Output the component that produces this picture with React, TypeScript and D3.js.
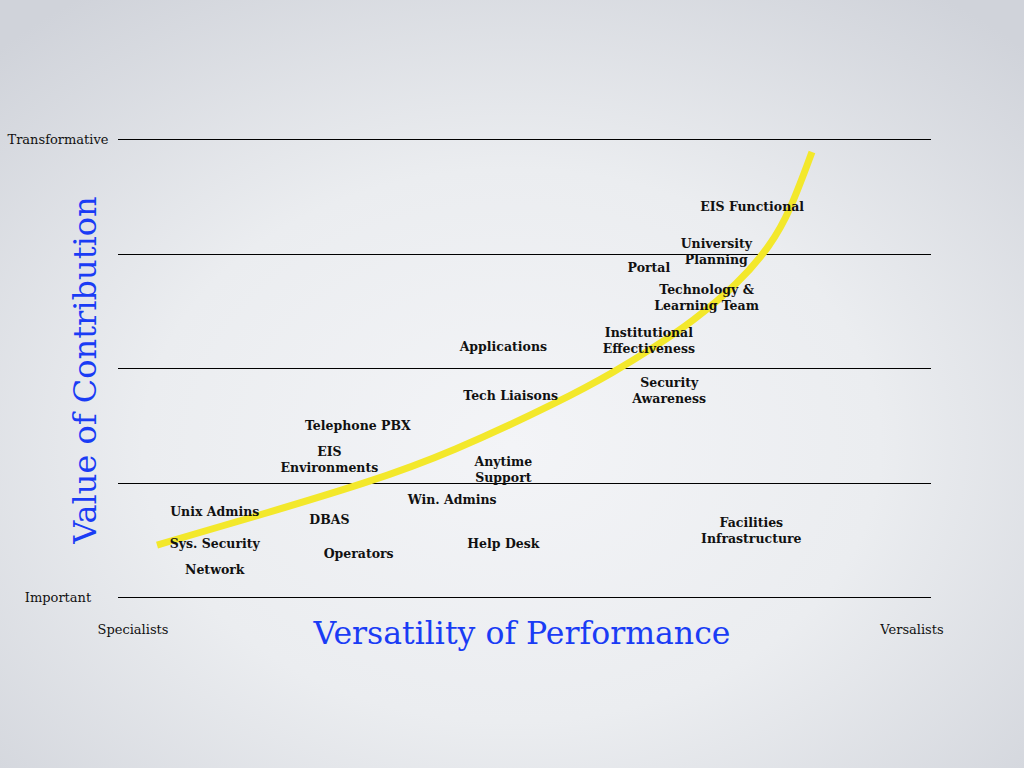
import React from "react";
import * as d3 from "d3";

const W = 1024;
const H = 768;

// y levels: 0 = Important ... 4 = Transformative
const levels = [0, 1, 2, 3, 4];
const yTickLabels = [
  { level: 0, text: "Important" },
  { level: 4, text: "Transformative" },
];
const xEndLabels = [
  { x: 0, text: "Specialists" },
  { x: 100, text: "Versalists" },
];

// Groups (x: versatility 0-100, y: value 0-4, centre of label block)
const groupNames = [
  ["EIS Functional"],
  ["University", "Planning"],
  ["Portal"],
  ["Technology &", "Learning Team"],
  ["Institutional", "Effectiveness"],
  ["Applications"],
  ["Security", "Awareness"],
  ["Tech Liaisons"],
  ["Telephone PBX"],
  ["EIS", "Environments"],
  ["Anytime", "Support"],
  ["Win. Admins"],
  ["Unix Admins"],
  ["DBAS"],
  ["Facilities", "Infrastructure"],
  ["Sys. Security"],
  ["Help Desk"],
  ["Operators"],
  ["Network"],
];
const groupX = [78.0, 73.6, 65.3, 72.4, 65.3, 47.4, 67.8, 48.3, 29.5, 26.0, 47.4, 41.1, 11.9, 26.0, 77.9, 11.9, 47.4, 29.6, 11.9];
const groupY = [3.41, 3.02, 2.88, 2.62, 2.24, 2.19, 1.8, 1.76, 1.5, 1.2, 1.11, 0.85, 0.75, 0.68, 0.58, 0.47, 0.47, 0.38, 0.24];

// Yellow trend curve
const curveX = [4.8, 16.24, 31.0, 40.84, 54.74, 61.01, 65.81, 70.6, 76.26, 80.32, 82.66, 85.36];
const curveY = [0.454, 0.69, 1.004, 1.258, 1.721, 1.965, 2.175, 2.402, 2.734, 3.074, 3.371, 3.886];

const FONT = "'DejaVu Serif', 'Liberation Serif', serif";

export default function App() {
  const x = d3.scaleLinear().domain([0, 100]).range([118, 931]);
  const y = d3.scaleLinear().domain([0, 4]).range([597, 139]);

  const line = d3
    .line<number>()
    .x((_, i) => x(curveX[i]))
    .y((_, i) => y(curveY[i]))
    .curve(d3.curveBasis);

  const lineH = 16;

  return (
    <svg
      width={W}
      height={H}
      style={{ position: "absolute", left: 0, top: 0 }}
      fontFamily={FONT}
    >
      <defs>
        <radialGradient id="bg" cx="50%" cy="58%" r="72%">
          <stop offset="0%" stopColor="#f3f4f7" />
          <stop offset="50%" stopColor="#ebedf0" />
          <stop offset="100%" stopColor="#d0d3da" />
        </radialGradient>
      </defs>
      <rect width={W} height={H} fill="url(#bg)" />

      {levels.map((l) => {
        const yy = Math.round(y(l)) + 0.5;
        return <line key={l} x1={x(0)} x2={x(100)} y1={yy} y2={yy} stroke="#000" strokeWidth={1} />;
      })}

      {yTickLabels.map((t) => (
        <text key={t.text} x={58} y={y(t.level) + 5} textAnchor="middle" fontSize={13} fill="#111">
          {t.text}
        </text>
      ))}
      {xEndLabels.map((t) => (
        <text key={t.text} x={x(t.x) + (t.x === 0 ? 15 : -19)} y={634} textAnchor="middle" fontSize={13} fill="#111">
          {t.text}
        </text>
      ))}

      <path d={line(curveX) || ""} fill="none" stroke="#f3e82b" strokeWidth={7} />

      {groupNames.map((lines, i) => {
        const cx = x(groupX[i]);
        const cy = y(groupY[i]);
        const top = cy - ((lines.length - 1) * lineH) / 2;
        return (
          <text key={i} textAnchor="middle" fontSize={12.5} fontWeight="bold" fill="#111">
            {lines.map((ln, j) => (
              <tspan key={j} x={cx} y={top + j * lineH + 4.5}>
                {ln}
              </tspan>
            ))}
          </text>
        );
      })}

      <text
        transform={`translate(96, 370) rotate(-90)`}
        textAnchor="middle"
        fontSize={32}
        fill="#1a3cf5"
      >
        Value of Contribution
      </text>
      <text x={522} y={644} textAnchor="middle" fontSize={31.5} fill="#1a3cf5">
        Versatility of Performance
      </text>
    </svg>
  );
}
